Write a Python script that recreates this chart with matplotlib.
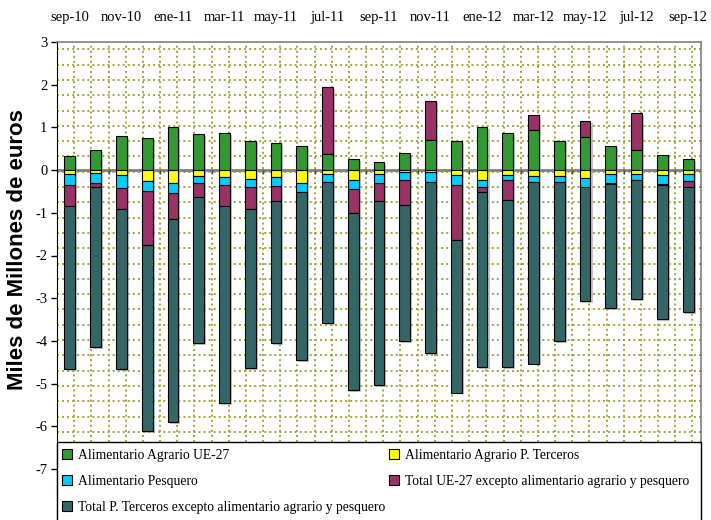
import numpy as np
import matplotlib
matplotlib.use('Agg')
from matplotlib import pyplot as plt
from matplotlib.patches import Patch, Rectangle

plt.rcParams['font.family'] = ['Liberation Serif', 'DejaVu Serif']
plt.rcParams['axes.unicode_minus'] = False

# data (miles de millones de euros)
meses = ['sep-10', 'oct-10', 'nov-10', 'dic-10', 'ene-11', 'feb-11', 'mar-11', 'abr-11',
         'may-11', 'jun-11', 'jul-11', 'ago-11', 'sep-11', 'oct-11', 'nov-11', 'dic-11',
         'ene-12', 'feb-12', 'mar-12', 'abr-12', 'may-12', 'jun-12', 'jul-12', 'ago-12', 'sep-12']

agr_ue = [0.33, 0.48, 0.80, 0.76, 1.00, 0.835, 0.87, 0.68, 0.625, 0.555, 0.367, 0.25, 0.195,
          0.40, 0.695, 0.68, 1.00, 0.874, 0.95, 0.68, 0.765, 0.555, 0.468, 0.344, 0.25]
agr_terc = [-0.09, -0.06, -0.125, -0.25, -0.31, -0.14, -0.165, -0.22, -0.17, -0.31, -0.094, -0.226,
            -0.094, -0.04, -0.055, -0.125, -0.226, -0.125, -0.14, -0.14, -0.195, -0.086, -0.094,
            -0.125, -0.086]
pesquero = [-0.27, -0.25, -0.295, -0.25, -0.22, -0.16, -0.195, -0.17, -0.20, -0.20, -0.18, -0.225,
            -0.20, -0.20, -0.215, -0.225, -0.164, -0.115, -0.13, -0.13, -0.195, -0.21, -0.146,
            -0.21, -0.18]
resto_ue = [-0.475, -0.08, -0.48, -1.26, -0.61, -0.32, -0.48, -0.53, -0.355, 0.0, 1.57, -0.565,
            -0.43, -0.57, 0.928, -1.29, -0.13, -0.46, 0.35, 0.0, 0.39, -0.02, 0.86, -0.01, -0.125]
resto_terc = [-3.83, -3.76, -3.75, -4.35, -4.77, -3.44, -4.62, -3.71, -3.32, -3.94, -3.30, -4.145,
              -4.31, -3.195, -4.01, -3.57, -4.10, -3.92, -4.26, -3.735, -2.67, -2.92, -2.77,
              -3.145, -2.94]

labels = ['Alimentario Agrario UE-27', 'Alimentario Agrario P. Terceros',
          'Alimentario Pesquero', 'Total UE-27 excepto alimentario agrario y pesquero',
          'Total P. Terceros excepto alimentario agrario y pesquero']
colors = ['#339933', '#ffff00', '#00ccff', '#993366', '#336666']

W, H = 711, 520
fig = plt.figure(figsize=(W / 100, H / 100), dpi=100)
ax = fig.add_axes([57 / W, 0, 644 / W, 478 / H])

x = np.arange(len(meses))
a_ue = np.array(agr_ue)
a_te = np.array(agr_terc)
pes = np.array(pesquero)
r_ue = np.array(resto_ue)
r_te = np.array(resto_terc)

px = 42.7  # pixels per unit
ax.set_xlim(-0.5, 24.5)
ax.set_ylim(3 - 478 / px, 3)

# dotted background grid
gcol = '#a3a33a'
gbot = (170 - 442) / px
for gx in np.arange(-0.5, 24.6, 2 / 3):
    ax.plot([gx, gx], [gbot, 3], color=gcol, lw=1.4, ls=(0, (1, 1.6)), zorder=0.5)
for gy in 2.827 - 0.3583 * np.arange(26):
    ax.plot([-0.5, 24.5], [gy, gy], color=gcol, lw=1.4, ls=(0, (1, 1.6)), zorder=0.5)

ax.axhline(0, color='#808080', lw=2, zorder=1)
ax.vlines(np.arange(1.5, 24, 2), 0, -0.1, color='#444444', lw=1, zorder=1)

# stacks
neg1 = a_te + pes
neg2 = neg1 + np.minimum(r_ue, 0)
top = a_ue + np.maximum(r_ue, 0)
bottom = neg2 + r_te
wd = 0.42
ax.bar(x + 0.08, top - bottom, bottom=bottom - 0.045, width=wd, color='#9a9a9a', alpha=0.6,
       lw=0, zorder=1.5)

ek = dict(width=wd, edgecolor='black', linewidth=0.8, zorder=2)
ax.bar(x, r_ue, bottom=np.where(r_ue >= 0, a_ue, neg1), color=colors[3], **ek)
ax.bar(x, a_ue, color=colors[0], **ek)
ax.bar(x, a_te, color=colors[1], **ek)
ax.bar(x, pes, bottom=a_te, color=colors[2], **ek)
ax.bar(x, r_te, bottom=neg2, color=colors[4], **ek)

# axes styling
ax.spines['bottom'].set_visible(False)
ax.spines['top'].set_color('#808080')
ax.spines['right'].set_color('#808080')
ax.spines['top'].set_linewidth(1.2)
ax.spines['right'].set_linewidth(1.2)
ax.xaxis.tick_top()
ax.set_xticks(x[::2])
ax.set_xticklabels(meses[::2])
ax.tick_params(axis='x', length=0, pad=13, labelsize=10.5)
ax.set_yticks(range(-7, 4))
ax.tick_params(axis='y', direction='out', length=4, width=1, pad=3, labelsize=10.5)

fig.text(18 / W, 1 - 250 / H, 'Miles de Millones de euros', rotation=90,
         family='Liberation Sans', fontweight='bold', fontsize=16, ha='center', va='center')

# legend box at the bottom
box = Rectangle((57 / W, -0.02), 644 / W, 78 / H + 0.02, transform=fig.transFigure,
                facecolor='white', edgecolor='black', lw=1, zorder=5)
fig.add_artist(box)
order = [0, 2, 4, 1, 3]
handles = [Patch(facecolor=colors[i], edgecolor='black', lw=0.8) for i in order]
leg = fig.legend(handles, [labels[i] for i in order], ncol=2, loc='upper left',
                 bbox_to_anchor=(62 / W, 1 - 449 / H), frameon=False, fontsize=9.8,
                 handlelength=0.75, handleheight=0.75, handletextpad=0.4, labelspacing=0.95,
                 columnspacing=0.3, borderaxespad=0, borderpad=0)
leg.set_zorder(6)

fig.savefig('out.png', dpi=100)
